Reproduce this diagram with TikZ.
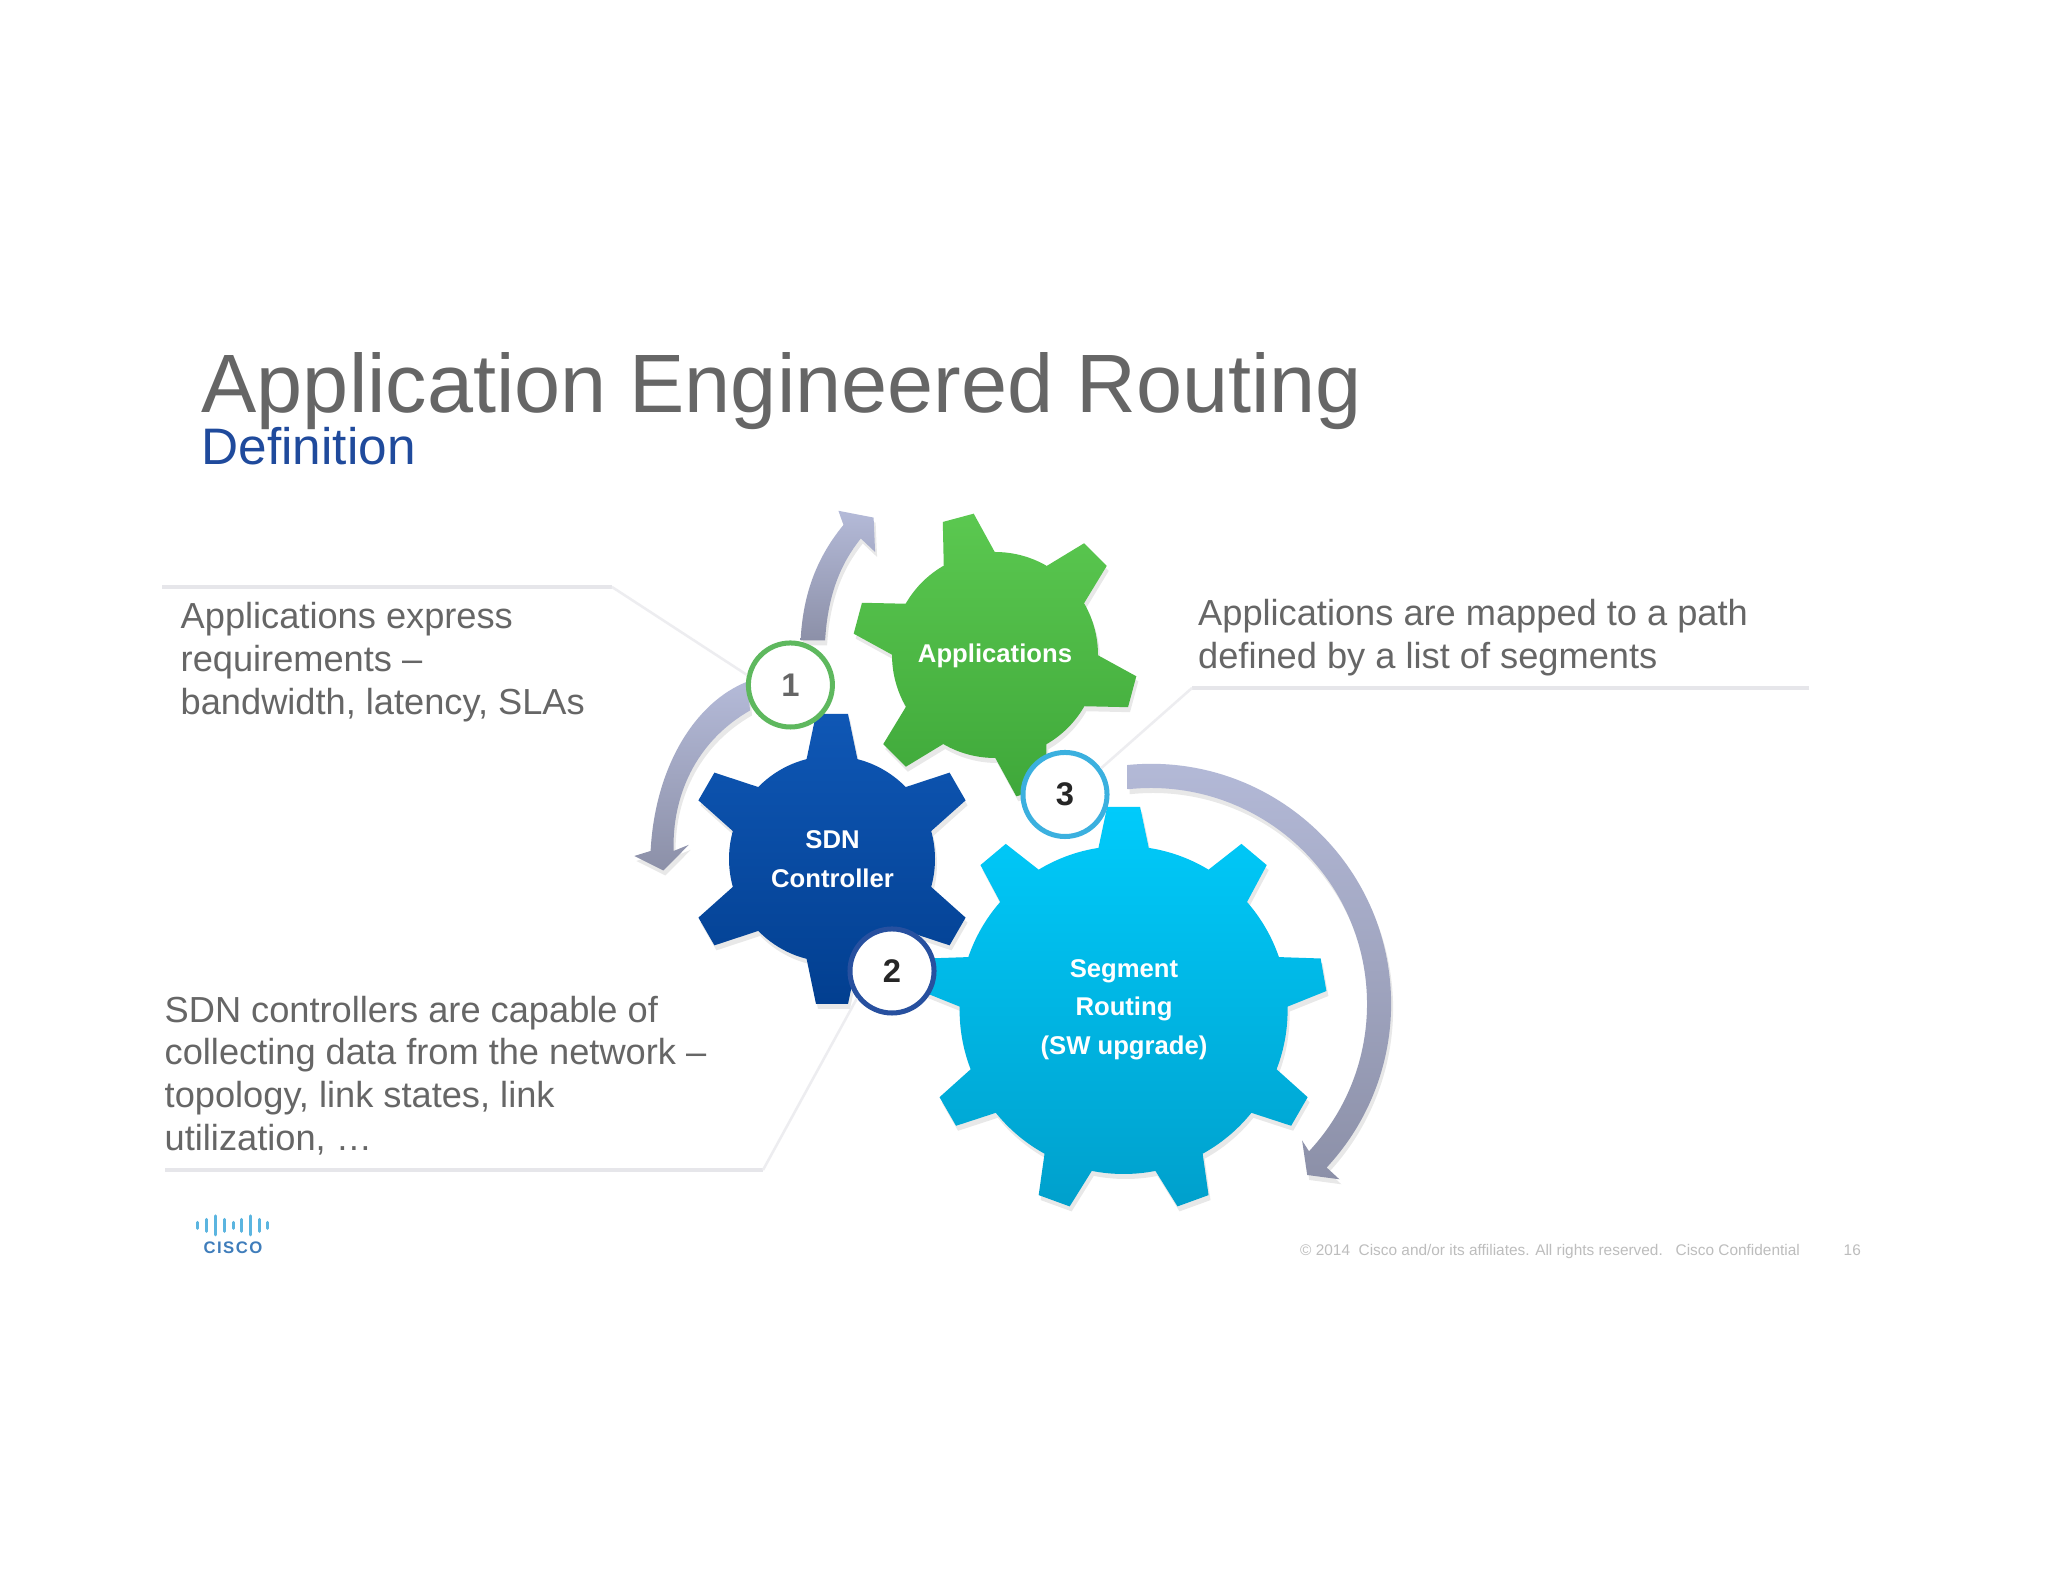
\documentclass[tikz,border=0pt]{standalone}
\usepackage{fontspec}
\setmainfont{Liberation Sans}
\newfontfamily\logofont[LetterSpace=9]{Liberation Sans}
\definecolor{txtgray}{HTML}{666666}
\definecolor{footgray}{HTML}{BDBDBD}
\definecolor{defblue}{HTML}{1F4A9C}
\definecolor{leadgray}{HTML}{E6E6EA}
\definecolor{arrowTop}{HTML}{B4BAD8}
\definecolor{arrowBottom}{HTML}{8C90A8}
\definecolor{gearGreenA}{HTML}{5BC850}
\definecolor{gearGreenB}{HTML}{3FA83A}
\definecolor{gearBlueA}{HTML}{0F57B5}
\definecolor{gearBlueB}{HTML}{023F90}
\definecolor{gearCyanA}{HTML}{00CBFB}
\definecolor{gearCyanB}{HTML}{00A0CC}
\definecolor{oneGreen}{HTML}{5EB85E}
\definecolor{twoBlue}{HTML}{27509F}
\definecolor{threeCyan}{HTML}{3BB0DF}
\definecolor{logoBar}{HTML}{5BB5E0}
\definecolor{logoText}{HTML}{3F7DBB}
\tikzset{
  softshadow/.style={preaction={fill=black,opacity=.09,transform canvas={xshift=.02cm,yshift=-.05cm}}},
  gearlabel/.style={text=white,align=center,inner sep=0pt,font=\fontsize{7.3}{11}\selectfont\bfseries},
  bodytext/.style={text=txtgray,align=left,anchor=north west,inner sep=0pt,font=\fontsize{10.3}{12.1}\selectfont},
  numcircle/.style={circle,draw=#1,fill=white,line width=.05cm,minimum size=.84cm,inner sep=0pt,font=\fontsize{9.3}{10}\selectfont\bfseries},
  leader/.style={draw=leadgray,line width=.04cm},
  leaderslant/.style={draw=leadgray!70,line width=.025cm},
  curvedarrow/.style={top color=arrowTop,bottom color=arrowBottom,softshadow},
  logobar/.style={draw=logoBar,line width=.03cm,line cap=round}
}
% center, body radius, tooth radius, base half width, tip half width, angles, top colour, bottom colour
\newcommand{\drawgear}[8]{
\begin{scope}[shift={(#1)}]
\shade[top color=#7,bottom color=#8,softshadow] (0,0) circle (#2)
  \foreach \a in {#6} {([rotate=\a]#2-6,-#4) -- ([rotate=\a]#3,-#5) -- ([rotate=\a]#3,#5) -- ([rotate=\a]#2-6,#4) -- cycle};
\end{scope}
}
\begin{document}
\begin{tikzpicture}[x=.01cm,y=.01cm]
\useasboundingbox (0,0) rectangle (2048,1582);
\fill[white] (0,0) rectangle (2048,1582);
% title
\node (title) at (201,1169.6) [anchor=base west,inner sep=0pt,text=txtgray,font=\fontsize{23.55}{26}\selectfont] {Application Engineered Routing};
\node (subtitle) at (201,1117) [anchor=base west,inner sep=0pt,text=defblue,font=\fontsize{14.6}{16}\selectfont] {Definition};
% curved arrows
\shade[curvedarrow] (800.6,941.7) .. controls (803,990) and (818,1026) .. (843.5,1057.1) -- (838.4,1071.2) -- (873.6,1064.4) -- (875.1,1030) -- (860.8,1043.5) .. controls (842,1020) and (828,990) .. (825.1,941.7) -- cycle;
\shade[curvedarrow] (747.6,900.5) .. controls (695,880) and (655,815) .. (650.6,731) -- (634.3,726) -- (663.4,711.5) -- (688.9,737.2) -- (673.6,731) .. controls (672,785) and (695,840) .. (750,871.5) -- cycle;
\shade[curvedarrow] (1127.7,817) arc [start angle=95.6,end angle=-43,radius=240] -- (1339.4,402.7) -- (1307.2,407) -- (1302.1,441.5) -- (1309,430.7) arc [start angle=-43,end angle=96.2,radius=216] -- cycle;
% gears
\drawgear{995,927}{103}{142}{27}{16}{105,45,-15,-75,-135,165}{gearGreenA}{gearGreenB}
\drawgear{832,723}{103}{145}{26}{16}{90,30,-30,-90,-150,150}{gearBlueA}{gearBlueB}
\drawgear{1123.6,572}{164}{203}{26}{16.5}{90,50,10,-30,-70,-110,-150,170,130}{gearCyanA}{gearCyanB}
\node (apps) at (995,926) [gearlabel] {Applications};
\node (sdn) at (832.5,723) [gearlabel] {SDN\\Controller};
\node (sr) at (1124,572.5) [gearlabel] {Segment\\Routing\\(SW upgrade)};
% texts and leaders
\node (reqtext) at (180,980) [bodytext] {Applications express\\requirements --\\bandwidth, latency, SLAs};
\node (pathtext) at (1197.5,983) [bodytext] {Applications are mapped to a path\\defined by a list of segments};
\node (sdntext) at (164,586.5) [bodytext] {SDN controllers are capable of\\collecting data from the network --\\topology, link states, link\\utilization, \dots};
% numbered circles
\node (one) at (790.4,897) [numcircle=oneGreen,text=txtgray] {1};
\node (two) at (892,611) [numcircle=twoBlue,text=black!85] {2};
\node (three) at (1065,787.5) [numcircle=threeCyan,text=black!85] {3};
\coordinate (reqa) at (162,995);
\coordinate (reqb) at (612,995);
\coordinate (patha) at (1809,894);
\coordinate (pathb) at (1192,894);
\coordinate (sdna) at (165,412);
\coordinate (sdnb) at (763,412);
\draw[leader] (reqa) -- (reqb);
\draw[leaderslant] (reqb) -- (one.167);
\draw[leader] (patha) -- (pathb);
\draw[leaderslant] (pathb) -- (three.36);
\draw[leader] (sdna) -- (sdnb);
\draw[leaderslant] (sdnb) -- (two.218);
% logo
\foreach \x/\h in {197.7/3,206.7/6,215/9.5,224/6,233/3,241.7/6,250.3/9.5,259/6,267.7/3}
  \draw[logobar] (\x,356.5-\h) -- (\x,356.5+\h);
\node (logo) at (233,334) [inner sep=0pt,text=logoText,font=\logofont\fontsize{4.75}{5}\selectfont\bfseries] {CISCO};
% footer
\node (foot) at (1299.5,326) [anchor=base west,inner sep=0pt,text=footgray,font=\fontsize{4.38}{5}\selectfont] {\textcopyright{} 2014\ \ Cisco and/or its affiliates. All rights reserved.\ \ \ Cisco Confidential};
\node (page) at (1843,326) [anchor=base west,inner sep=0pt,text=footgray,font=\fontsize{4.38}{5}\selectfont] {16};
\end{tikzpicture}
\end{document}
